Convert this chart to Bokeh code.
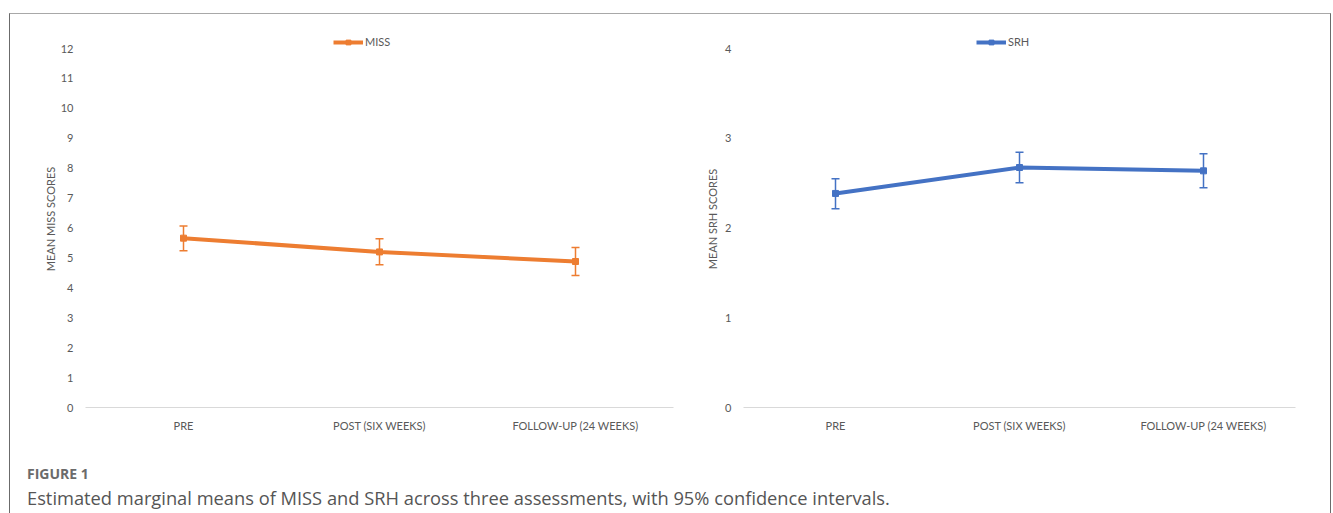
from bokeh.plotting import figure
from bokeh.models import (ColumnDataSource, FactorRange, Range1d, FixedTicker, Whisker,
                          TeeHead, Legend, LegendItem, Div, Spacer)
from bokeh.layouts import row, column
from bokeh.embed import file_html
from bokeh.resources import INLINE

# ---- data ----
categories = ["PRE", "POST (SIX WEEKS)", "FOLLOW-UP (24 WEEKS)"]
miss_mean = [5.66, 5.20, 4.88]
miss_upper = [6.07, 5.64, 5.35]
miss_lower = [5.24, 4.77, 4.41]
srh_mean = [2.385, 2.674, 2.637]
srh_upper = [2.548, 2.845, 2.826]
srh_lower = [2.214, 2.503, 2.448]
miss_ticks = list(range(0, 13))
srh_ticks = list(range(0, 5))

FONT = "Lato"
TXT = "#595959"
TOP_EXTRA_PX = 18      # room above the top tick for the legend
FRAME_H = 377          # 359 px for the tick span + room for legend


def make_panel(name, mean, upper, lower, color, ymax, ticks, ylabel,
               width, mbl, mbr, legend_x, label_standoff):
    src = ColumnDataSource(dict(x=categories, y=mean, upper=upper, lower=lower))
    tick_span_px = FRAME_H - TOP_EXTRA_PX
    y_end = ymax + ymax * TOP_EXTRA_PX / tick_span_px
    p = figure(x_range=FactorRange(*categories, range_padding=0),
               y_range=Range1d(0, y_end), width=width, height=441,
               output_backend="svg", toolbar_location=None,
               min_border_left=mbl, min_border_right=mbr,
               min_border_top=16, min_border_bottom=48)
    p.outline_line_color = None
    p.xgrid.grid_line_color = None
    p.ygrid.grid_line_color = None
    p.background_fill_color = "white"
    p.border_fill_color = "white"

    w = Whisker(source=src, base="x", upper="upper", lower="lower",
                line_color=color, line_width=1.5,
                upper_head=TeeHead(size=8, line_color=color, line_width=1.5),
                lower_head=TeeHead(size=8, line_color=color, line_width=1.5))
    p.add_layout(w)
    ln = p.line("x", "y", source=src, line_color=color, line_width=4)
    sc = p.scatter("x", "y", source=src, marker="square", size=6,
                   fill_color=color, line_color=color)

    leg = Legend(items=[LegendItem(label=name, renderers=[ln, sc])],
                 location=(legend_x, tick_span_px), orientation="horizontal",
                 glyph_width=30, glyph_height=12, label_height=12,
                 label_standoff=2, padding=0, margin=0, spacing=0,
                 label_text_font=FONT, label_text_font_size="11px",
                 label_text_color=TXT, background_fill_alpha=0,
                 border_line_color=None)
    p.add_layout(leg, "center")

    xa = p.xaxis[0]
    xa.axis_line_color = "#d9d9d9"
    xa.axis_line_width = 1
    xa.major_tick_line_color = None
    xa.minor_tick_line_color = None
    xa.major_tick_out = 0
    xa.major_tick_in = 0
    xa.major_label_standoff = 11
    xa.major_label_text_font = FONT
    xa.major_label_text_font_size = "11px"
    xa.major_label_text_color = TXT

    ya = p.yaxis[0]
    ya.ticker = FixedTicker(ticks=ticks)
    ya.axis_line_color = None
    ya.major_tick_line_color = None
    ya.minor_tick_line_color = None
    ya.major_tick_out = 0
    ya.major_tick_in = 0
    ya.major_label_standoff = 12
    ya.major_label_text_font = FONT
    ya.major_label_text_font_size = "11px"
    ya.major_label_text_color = TXT
    ya.axis_label = ylabel
    ya.axis_label_standoff = label_standoff
    ya.axis_label_text_font = FONT
    ya.axis_label_text_font_size = "11px"
    ya.axis_label_text_font_style = "normal"
    ya.axis_label_text_color = TXT
    return p


p1 = make_panel("MISS", miss_mean, miss_upper, miss_lower, "#ED7D31", 12,
                miss_ticks, "MEAN MISS SCORES", 670, 75, 7, 248, 1)
p2 = make_panel("SRH", srh_mean, srh_upper, srh_lower, "#4472C4", 4,
                srh_ticks, "MEAN SRH SCORES", 652, 63, 37, 233, 3)

FRAME = ('<div style="position:fixed;left:9px;top:13px;width:1322px;height:600px;'
         'border-top:1px solid #a8a8a8;border-left:1px solid #6b6b6b;'
         'border-right:1px solid #6b6b6b;pointer-events:none;"></div>')

caption = Div(
    text=(FRAME +
          '<div style="padding-top:9px;padding-left:17px;font-family:\'Open Sans\';">'
          '<div style="line-height:20px;font-size:14px;font-weight:bold;color:#6b6b6b;">FIGURE 1</div>'
          '<div style="margin-top:4px;line-height:20px;font-size:18.3px;color:#555555;white-space:nowrap;">'
          'Estimated marginal means of MISS and SRH across three assessments, with 95% confidence intervals.'
          '</div></div>'),
    width=1322, height=50, margin=0)

layout = column(Spacer(width=1332, height=14),
                row(Spacer(width=10, height=491),
                    column(row(p1, p2), caption)))

open("out.html", "w").write(file_html(layout, INLINE))
